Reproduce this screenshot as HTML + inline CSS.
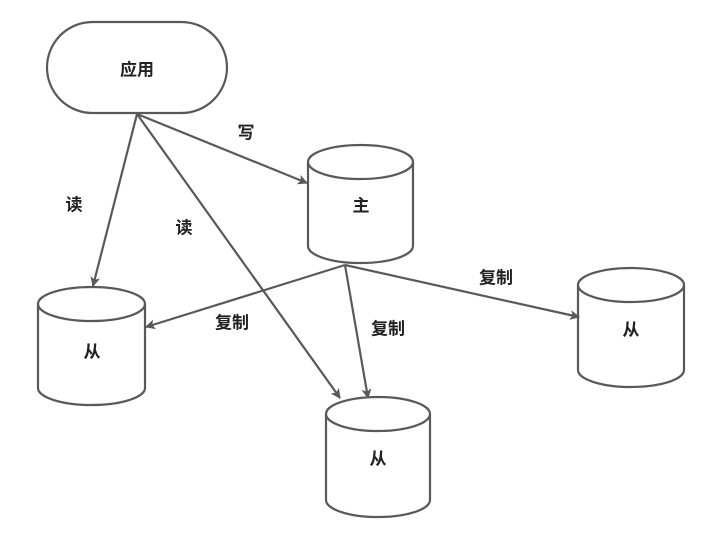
<!DOCTYPE html>
<html><head><meta charset="utf-8"><style>
html,body{margin:0;padding:0;background:#fff}
svg{display:block}
text{font-family:"Liberation Sans","Noto Sans CJK SC",sans-serif;font-weight:bold;font-size:17px;fill:#222;text-anchor:middle;dominant-baseline:central}
</style></head><body>
<svg width="722" height="533" viewBox="0 0 722 533" xmlns="http://www.w3.org/2000/svg">
<defs><marker id="a" markerWidth="10" markerHeight="10" refX="9" refY="5" orient="auto" markerUnits="userSpaceOnUse"><path d="M0,0 L10,5 L0,10 L2.5,5 Z" fill="#595959"/></marker></defs>
<g fill="none" stroke="#595959" stroke-width="2.2">
<rect x="47" y="22" width="180" height="91" rx="45.5" fill="#fff"/>
<path d="M308,162 v84 a52.5,17 0 0 0 105,0 v-84"/><ellipse cx="360.5" cy="162" rx="52.5" ry="17"/>
<path d="M38,304 v84 a53.5,17 0 0 0 107,0 v-84"/><ellipse cx="91.5" cy="304" rx="53.5" ry="17"/>
<path d="M326,414 v86 a52,17 0 0 0 104,0 v-86"/><ellipse cx="378" cy="414" rx="52" ry="17"/>
<path d="M578,285 v85 a53,17 0 0 0 106,0 v-85"/><ellipse cx="631" cy="285" rx="53" ry="17"/>
<line x1="137" y1="114" x2="93" y2="286" marker-end="url(#a)"/>
<line x1="137" y1="114" x2="307" y2="183" marker-end="url(#a)"/>
<line x1="137" y1="114" x2="340" y2="398" marker-end="url(#a)"/>
<line x1="345" y1="265" x2="146" y2="327" marker-end="url(#a)"/>
<line x1="345" y1="265" x2="368" y2="398" marker-end="url(#a)"/>
<line x1="345" y1="265" x2="579" y2="317" marker-end="url(#a)"/>
</g>
<text x="137" y="70">应用</text>
<text x="361" y="206">主</text>
<text x="92" y="352">从</text>
<text x="378" y="459">从</text>
<text x="631" y="330">从</text>
<text x="246" y="133">写</text>
<text x="74" y="205">读</text>
<text x="184" y="228">读</text>
<text x="232" y="323">复制</text>
<text x="388" y="329">复制</text>
<text x="496" y="278">复制</text>
</svg>
</body></html>
